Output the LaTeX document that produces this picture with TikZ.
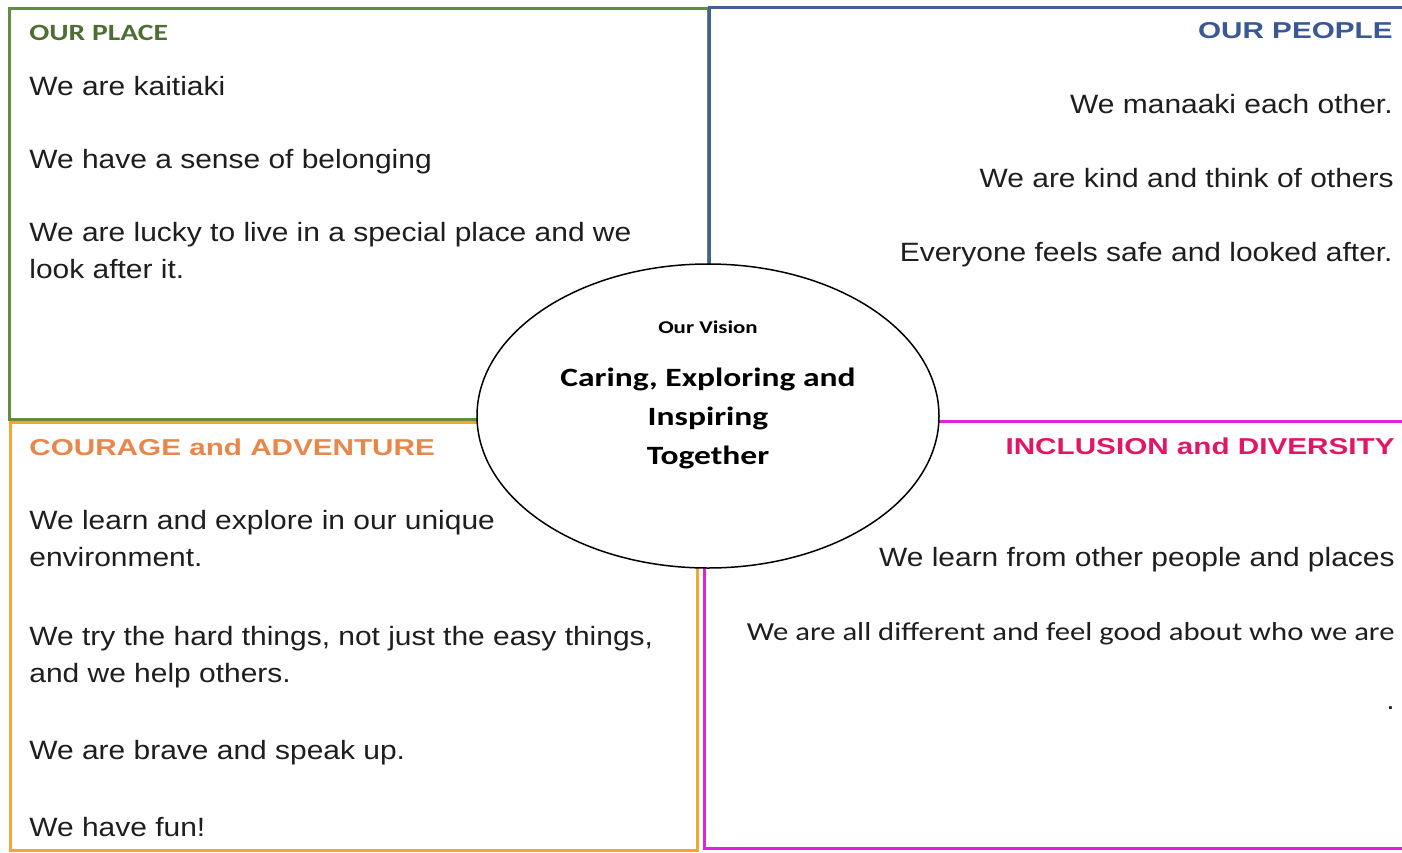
\documentclass[tikz,border=0pt]{standalone}
\usepackage{fontspec}
\newfontfamily\bodyfont[FakeStretch=1.13]{Liberation Sans}
\newfontfamily\headfont[FakeStretch=1.29]{Liberation Sans}
\newfontfamily\calfont[FakeStretch=1.27]{Carlito}
\newfontfamily\calfontnarrow[FakeStretch=1.18]{Carlito}
\usepackage{xcolor}
\usetikzlibrary{positioning, shapes.geometric}

\definecolor{placegreen}{RGB}{98,140,64}
\definecolor{placegreentext}{RGB}{79,110,52}
\definecolor{peopleblue}{RGB}{68,96,152}
\definecolor{peopletext}{RGB}{58,88,148}
\definecolor{courageorange}{RGB}{245,165,50}
\definecolor{couragetext}{RGB}{233,135,75}
\definecolor{inclmagenta}{RGB}{226,32,226}
\definecolor{incltext}{RGB}{226,22,102}
\definecolor{textgrey}{RGB}{30,30,30}

\begin{document}
\begin{tikzpicture}[x=0.5pt, y=-0.5pt,
    box/.style={line width=1.5pt},
    txt/.style={inner sep=0, anchor=base west, align=left, text=textgrey,
        font=\bodyfont\fontsize{13.25}{18.5}\selectfont},
    txtr/.style={txt, anchor=base east, align=right},
    head/.style={inner sep=0, anchor=base west, font=\headfont\bfseries\fontsize{11.5}{14}\selectfont},
    headr/.style={head, anchor=base east}]
\useasboundingbox (0,0) rectangle (1402,852);
\fill[white] (0,0) rectangle (1402,852);

% the four boxes
\draw[box, placegreen] (9,8) rectangle (708,419);
\draw[box, peopleblue] (709,7) rectangle (1410,421);
\draw[box, courageorange] (10,422) rectangle (697,850);
\draw[box, inclmagenta] (704,421) rectangle (1410,848);

% vision in the middle
\node[ellipse, draw, line width=0.75pt, fill=white, inner sep=0,
    minimum width=231pt, minimum height=152pt] (vision) at (708,416) {};
\node[inner sep=0, anchor=base, font=\calfont\bfseries\fontsize{9}{11}\selectfont]
    (visionhead) at (708,333) {Our Vision};
% base of a multi-line node = baseline of its last line
\node[inner sep=0, anchor=base, align=center, font=\calfont\bfseries\fontsize{13.2}{19.5}\selectfont]
    (visiontext) at (708,464) {Caring, Exploring and\\Inspiring\\Together};

% our place
\node[inner sep=0, anchor=base west, text=placegreentext, font=\calfont\bfseries\fontsize{11.65}{14}\selectfont]
    (placehead) at (29,40) {OUR PLACE};
\node[txt] (place1) at (29,95) {We are kaitiaki};
\node[txt] (place2) at (29,168) {We have a sense of belonging};
\node[txt] (place3) at (29,278) {We are lucky to live in a special place and we\\look after it.};

% our people
\node[headr, text=peopletext] (peoplehead) at (1393,38) {OUR PEOPLE};
\node[txtr] (people1) at (1393,113) {We manaaki each other.};
\node[txtr] (people2) at (1394,187) {We are kind and think of others};
\node[txtr] (people3) at (1393,261) {Everyone feels safe and looked after.};

% courage
\node[head, text=couragetext] (couragehead) at (29,455) {COURAGE and ADVENTURE};
\node[txt] (courage1) at (29,566) {We learn and explore in our unique\\environment.};
\node[txt] (courage2) at (29,682) {We try the hard things, not just the easy things,\\and we help others.};
\node[txt] (courage3) at (29,759) {We are brave and speak up.};
\node[txt] (courage4) at (29,836) {We have fun!};

% inclusion
\node[headr, text=incltext] (inclhead) at (1395,454) {INCLUSION and DIVERSITY};
\node[txtr] (incl1) at (1395,566) {We learn from other people and places};
\node[txtr, font=\calfontnarrow\fontsize{13}{15}\selectfont] (incl2) at (1395,640)
    {We are all different and feel good about who we are};
\node[txtr] (incl3) at (1395,709) {.};
\end{tikzpicture}
\end{document}
